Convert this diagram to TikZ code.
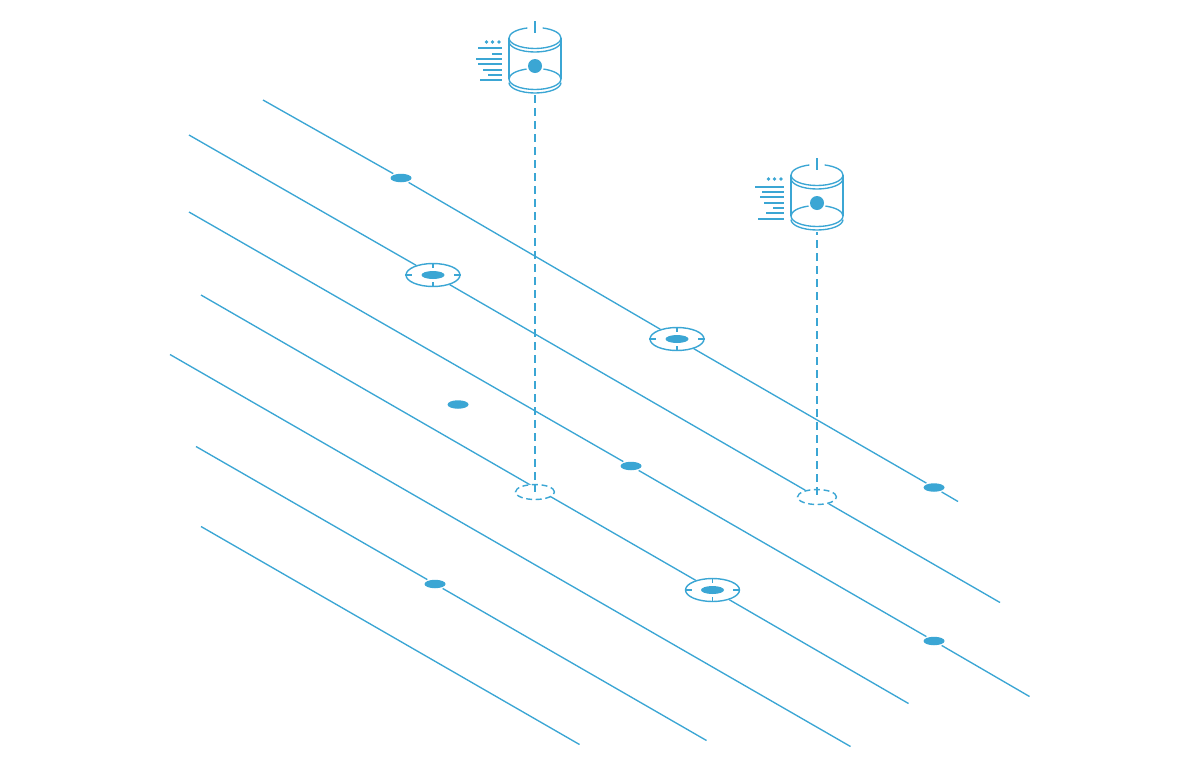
\documentclass[tikz,border=0pt]{standalone}
\usepackage{xcolor}
\usetikzlibrary{shapes.geometric, calc}
\definecolor{netblue}{HTML}{3BA6D4}
\tikzset{
  wire/.style  = {draw=netblue, line width=1.35pt},
  link/.style  = {draw=netblue, line width=1.5pt, dash pattern=on 7.5pt off 5.5pt},
  spot/.style  = {ellipse, fill=netblue, inner sep=0pt, minimum width=21pt,
                  minimum height=8.5pt, outer sep=1.5pt},
  ring/.style  = {ellipse, draw=netblue, line width=1.4pt, fill=white, inner sep=0pt,
                  minimum width=54pt, minimum height=23pt},
  core/.style  = {ellipse, fill=netblue, inner sep=0pt, minimum width=23pt,
                  minimum height=8pt},
  pad/.style   = {ellipse, draw=netblue, line width=1.4pt, fill=white, inner sep=0pt,
                  dash pattern=on 6pt off 3.6pt, minimum width=39pt, minimum height=15pt},
}
% ring with centre spot and four ticks
\newcommand{\ringmark}[3]{
  \node[ring] (#1) at (#2,#3) {};
  \node[core] (#1c) at (#2,#3) {};
  \draw[wire] (#1.north) -- ++(0,5) (#1.south) -- ++(0,-5)
              (#1.west) -- ++(7,0) (#1.east) -- ++(-7,0);
}
% can with its list of text lines; #4 = left end/height of the seven lines
\newcommand{\canmark}[4]{
  \begin{scope}[shift={(#2,#3)}]
    \draw[wire] (-26,17) arc[start angle=180, end angle=253, x radius=26, y radius=10.5];
    \draw[wire] (26,17) arc[start angle=0, end angle=-73, x radius=26, y radius=10.5];
    \draw[wire] (-26,17) arc[start angle=180, end angle=0, x radius=26, y radius=10.5];
    \draw[wire] (-26,20.5) arc[start angle=180, end angle=0, x radius=26, y radius=10.5];
    \draw[wire] (-26,17) -- (-26,58) (26,17) -- (26,58);
    \draw[wire] (-26,58) arc[start angle=180, end angle=251, x radius=26, y radius=10.5];
    \draw[wire] (26,58) arc[start angle=0, end angle=-71, x radius=26, y radius=10.5];
    \draw[wire] (-26,58) arc[start angle=180, end angle=0, x radius=26, y radius=10.5];
    \draw[wire] (-26,61.5) arc[start angle=180, end angle=0, x radius=26, y radius=10.5];
    \draw[wire] (0,0) -- (0,11.5);
    \node[circle, fill=netblue, inner sep=0pt, minimum size=14pt] (#1) at (0,45) {};
    \coordinate (#1b) at (0,74);
    \foreach \dx in {-48.5,-42.5,-36}
      \fill[netblue] (\dx,21) circle (1.9pt);
    \foreach \lx/\ly in {#4}
      \draw[wire] (\lx,\ly) -- (-33,\ly);
  \end{scope}
}
\begin{document}
\begin{tikzpicture}[x=1pt, y=-1pt]
  \useasboundingbox (0,0) rectangle (1200,769);
  \node[spot] (dota) at (401,178) {};
  \node[spot] (dotb) at (934,487.5) {};
  \node[spot] (dotc) at (631,466) {};
  \node[spot] (dotd) at (934,641) {};
  \node[spot] (dote) at (458,404.5) {};
  \node[spot] (dotf) at (435,584) {};
  \ringmark{rga}{677}{339}
  \ringmark{rgb}{433}{275}
  \ringmark{rgc}{712.5}{590}
  \node[pad] (padb) at (817,497) {};
  \coordinate (sa) at (263,100);  \coordinate (ea) at (958,501.5);
  \coordinate (sb) at (189,135);  \coordinate (eb) at (1000,602.5);
  \coordinate (sc) at (189,212);  \coordinate (ec) at (1029.5,696.5);
  \coordinate (sd) at (201,295);  \coordinate (ed) at (908.5,703.5);
  \coordinate (se) at (170,354.5);  \coordinate (ee) at (850.5,746.5);
  \coordinate (sf) at (196,446.5);  \coordinate (ef) at (706.5,740.5);
  \coordinate (sg) at (201,526.5);  \coordinate (eg) at (579.5,744.5);
  \draw[wire] (sa) -- (dota); \draw[wire] (dota) -- (rga); \draw[wire] (rga) -- (dotb); \draw[wire] (dotb) -- (ea);
  \draw[wire] (sb) -- (rgb); \draw[wire] (rgb) -- (padb); \draw[wire] (padb) -- (eb);
  \draw[wire] (sc) -- (dotc); \draw[wire] (dotc) -- (dotd); \draw[wire] (dotd) -- (ec);
  \draw[wire] (sd) -- (rgc); \draw[wire] (rgc) -- (ed);
  \draw[wire] (se) -- (ee);
  \draw[wire] (sf) -- (dotf); \draw[wire] (dotf) -- (ef);
  \draw[wire] (sg) -- (eg);
  % this pad sits over its line, off centre
  \node[pad] (pada) at (535,492) {};
  \canmark{cana}{535}{21}{-57/27,-43/33,-59/38,-57/43,-52/49,-47/54,-55/59}
  \canmark{canb}{817}{158}{-62/29,-55/34,-57/39,-53/45,-44/50,-51/55,-59/61}
  \draw[link] (canab) -- (pada.center);
  \draw[link, dash phase=5pt] (canbb) -- (padb.center);
\end{tikzpicture}
\end{document}
